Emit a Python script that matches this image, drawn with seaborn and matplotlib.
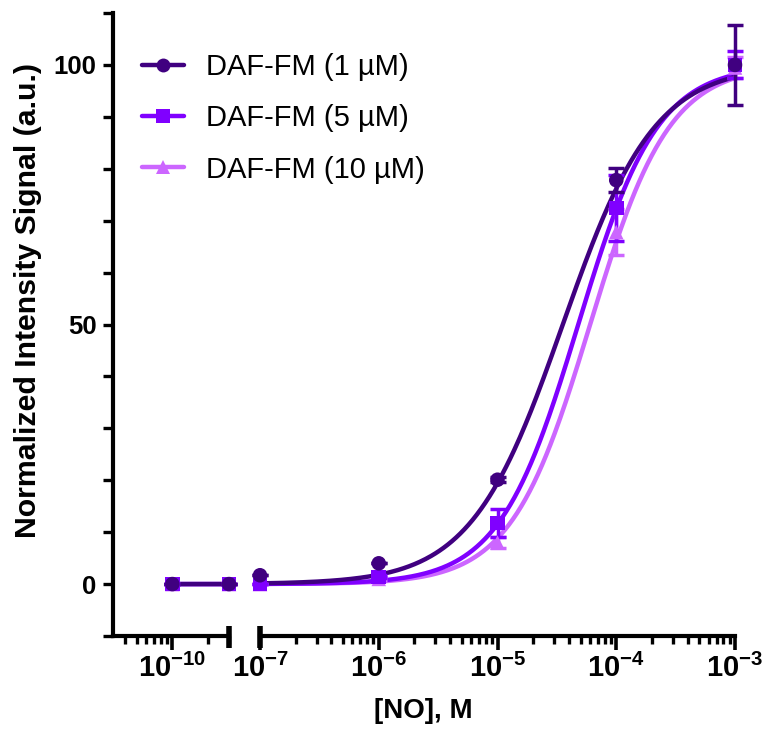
import numpy as np
import pandas as pd
import matplotlib
matplotlib.use("Agg")
import matplotlib.pyplot as plt
import seaborn as sns
from matplotlib.lines import Line2D
from matplotlib.ticker import FixedLocator, FixedFormatter, NullFormatter

# ---------------- data ----------------
series = ["DAF-FM (1 µM)", "DAF-FM (5 µM)", "DAF-FM (10 µM)"]
colors = ["#400080", "#8000FF", "#CC66FF"]
markers = ["o", "s", "^"]
conc = [1e-10, 3e-10, 1e-7, 1e-6, 1e-5, 1e-4, 1e-3]
signal_1uM = [0.0, 0.0, 1.7, 4.0, 20.1, 77.8, 100.0]
signal_5uM = [0.0, 0.0, 0.0, 1.4, 11.8, 72.4, 100.0]
signal_10uM = [0.0, 0.0, 0.0, 1.0, 8.0, 67.8, 99.5]
sem_1uM = [0.0, 0.0, 0.0, 0.0, 0.5, 2.3, 7.7]
sem_5uM = [0.0, 0.0, 0.0, 0.3, 2.7, 6.4, 2.6]
sem_10uM = [0.0, 0.0, 0.0, 0.3, 1.0, 4.4, 2.0]
# sigmoidal (4PL) fit parameters
fit_bottom = [0.0, 0.0, 0.0]
fit_top = [100.0, 100.0, 100.0]
fit_logec50 = [-4.45, -4.32, -4.22]
fit_hill = [1.12, 1.30, 1.30]
y_major = [0, 50, 100]
x_major_left = [1e-10]
x_major_right = [1e-7, 1e-6, 1e-5, 1e-4, 1e-3]
x_labels_left = [r"$\mathbf{10^{-10}}$"]
x_labels_right = [r"$\mathbf{10^{-7}}$", r"$\mathbf{10^{-6}}$", r"$\mathbf{10^{-5}}$",
                  r"$\mathbf{10^{-4}}$", r"$\mathbf{10^{-3}}$"]

signals = [signal_1uM, signal_5uM, signal_10uM]
sems = [sem_1uM, sem_5uM, sem_10uM]

# long tables (drawing order: lightest first so darkest sits on top)
order = [2, 1, 0]
pts = pd.DataFrame({
    "conc": [c for i in order for c in conc],
    "signal": [v for i in order for v in signals[i]],
    "sem": [v for i in order for v in sems[i]],
    "series": [series[i] for i in order for _ in conc],
})
xfit = np.logspace(-10, -3, 600)
curves = pd.DataFrame({
    "conc": np.tile(xfit, 3),
    "signal": np.concatenate([
        fit_bottom[i] + (fit_top[i] - fit_bottom[i]) /
        (1 + 10 ** ((fit_logec50[i] - np.log10(xfit)) * fit_hill[i]))
        for i in order]),
    "series": np.repeat([series[i] for i in order], len(xfit)),
})

# ---------------- style ----------------
sns.set_style("ticks", {"axes.edgecolor": "black", "text.color": "black",
                        "xtick.color": "black", "ytick.color": "black",
                        "axes.labelcolor": "black"})
plt.rcParams["font.family"] = ["Liberation Sans", "DejaVu Sans"]
plt.rcParams["mathtext.fontset"] = "custom"
plt.rcParams["mathtext.bf"] = "Liberation Sans:bold"
plt.rcParams["mathtext.rm"] = "Liberation Sans"

palette = dict(zip(series, colors))
marker_map = dict(zip(series, markers))

fig = plt.figure(figsize=(7.64, 7.31), dpi=100)
W, H = 764, 731
ybot, ytop = 636, 13
ax1 = fig.add_axes([113 / W, 1 - ybot / H, (229 - 113) / W, (ybot - ytop) / H])
ax2 = fig.add_axes([260 / W, 1 - ybot / H, (735 - 260) / W, (ybot - ytop) / H], sharey=ax1)

ranges = [(0, 5e-10), (5e-8, 2e-3)]
for ax, (lo, hi) in zip((ax1, ax2), ranges):
    ax.set_xscale("log")
    sns.lineplot(data=curves, x="conc", y="signal", hue="series", palette=palette,
                 hue_order=[series[i] for i in order], linewidth=3.2, legend=False,
                 ax=ax, zorder=2, estimator=None)
    sub = pts[(pts["conc"] > lo) & (pts["conc"] < hi)]
    for i in order:
        s = sub[sub["series"] == series[i]]
        eb = ax.errorbar(s["conc"], s["signal"], yerr=s["sem"], fmt="none",
                         ecolor=colors[i], elinewidth=2.5, capsize=6, capthick=2.5,
                         zorder=3)
        for art in eb.lines[1] + eb.lines[2]:
            art.set_clip_on(False)
    sns.scatterplot(data=sub, x="conc", y="signal", hue="series", style="series",
                    palette=palette, markers=marker_map, s=110, edgecolor="none",
                    legend=False, ax=ax, zorder=4, clip_on=False)
    ax.set_xlabel("")
    ax.set_ylabel("")
    for sp in ("top", "right"):
        ax.spines[sp].set_visible(False)
    ax.spines["bottom"].set_linewidth(3)
    ax.spines["left"].set_linewidth(3)
    ax.tick_params(axis="x", which="major", length=10, width=2.6, labelsize=21, pad=3)
    ax.tick_params(axis="x", which="minor", length=6, width=2.4)

ax1.set_xlim(10 ** -10.5, 3e-10)
ax2.set_xlim(1e-7, 1e-3)
ax1.set_ylim(-10, 110)

ax1.xaxis.set_major_locator(FixedLocator(x_major_left))
ax1.xaxis.set_major_formatter(FixedFormatter(x_labels_left))
ax2.xaxis.set_major_locator(FixedLocator(x_major_right))
ax2.xaxis.set_major_formatter(FixedFormatter(x_labels_right))
for ax in (ax1, ax2):
    ax.xaxis.set_minor_formatter(NullFormatter())

ax1.yaxis.set_major_locator(FixedLocator(y_major))
ax1.yaxis.set_minor_locator(FixedLocator(np.arange(-10, 111, 10)))
ax1.tick_params(axis="y", which="both", length=7, width=2.4)
ax1.tick_params(axis="y", which="major", labelsize=18.5, pad=5)
for lab in ax1.get_yticklabels():
    lab.set_fontweight("bold")
ax2.spines["left"].set_visible(False)
ax2.tick_params(axis="y", which="both", left=False, labelleft=False)

# axis-break bars
ax1.plot([1, 1], [0.016, -0.02], transform=ax1.transAxes, color="black",
         lw=4, clip_on=False, solid_capstyle="butt")
ax2.plot([0, 0], [0.016, -0.02], transform=ax2.transAxes, color="black",
         lw=4, clip_on=False, solid_capstyle="butt")

# labels
fig.text(423 / W, 1 - 711 / H, "[NO], M", ha="center", va="center",
         fontsize=20, fontweight="bold")
fig.text(28 / W, 1 - 301 / H, "Normalized Intensity Signal (a.u.)", ha="center",
         va="center", rotation=90, fontsize=21.8, fontweight="bold")

handles = [Line2D([], [], color=colors[i], marker=markers[i], markersize=10, lw=3.2,
                  markeredgewidth=0) for i in range(3)]
fig.legend(handles, series, loc="upper left", bbox_to_anchor=(142 / W, 1 - 53 / H),
           frameon=False, fontsize=21, handlelength=1.45, handletextpad=0.75,
           labelspacing=0.8, borderpad=0, borderaxespad=0)

fig.savefig("out.png", dpi=100)
